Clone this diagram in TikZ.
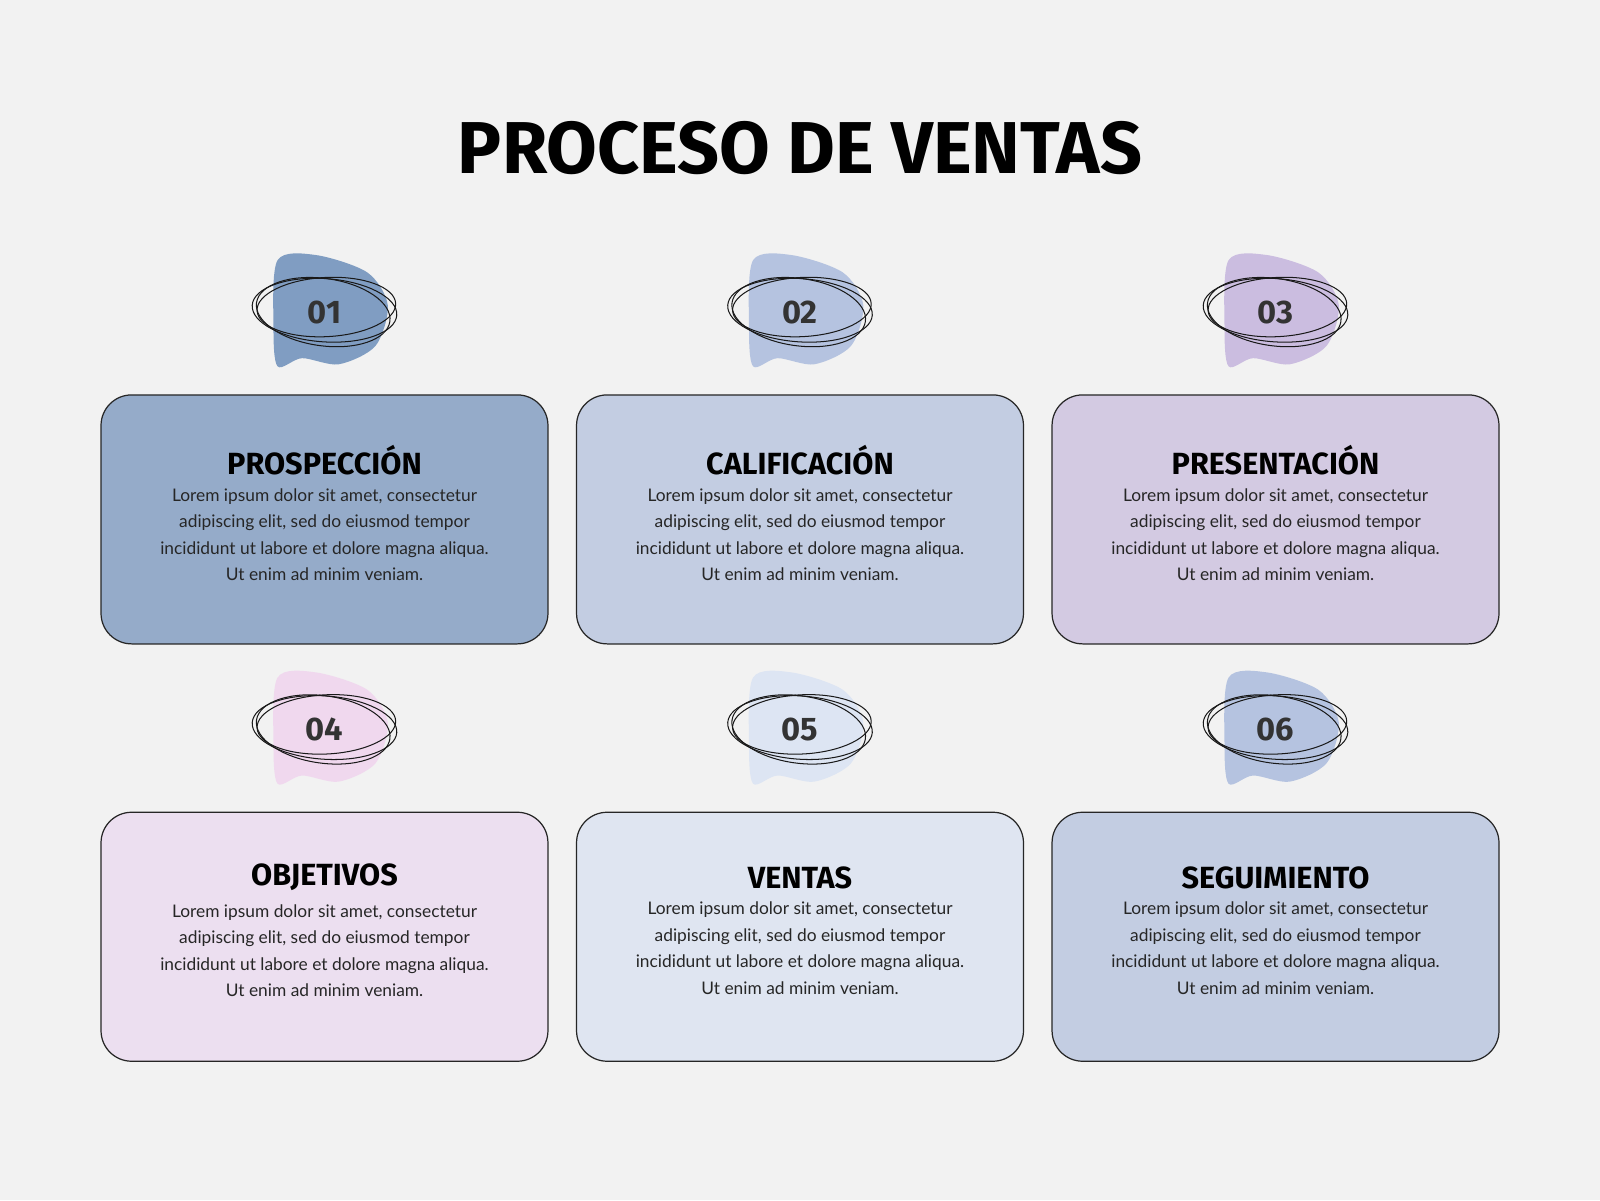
\documentclass[tikz,border=0pt]{standalone}
\usepackage{fontspec}
\setmainfont{Lato}
\newfontfamily\headfont{Fira Sans}
\usetikzlibrary{positioning}
\definecolor{pagebg}{HTML}{F2F2F2}
\definecolor{fillA}{HTML}{95ABC9}\definecolor{blobA}{HTML}{809DC2}
\definecolor{fillB}{HTML}{C3CDE2}\definecolor{blobB}{HTML}{B5C3E0}
\definecolor{fillC}{HTML}{D3CAE2}\definecolor{blobC}{HTML}{CBBDE0}
\definecolor{fillD}{HTML}{ECDFF0}\definecolor{blobD}{HTML}{F0D8EE}
\definecolor{fillE}{HTML}{DFE5F1}\definecolor{blobE}{HTML}{DDE5F3}
\definecolor{fillF}{HTML}{C3CDE2}\definecolor{blobF}{HTML}{B5C3E0}
\definecolor{numgray}{HTML}{333333}
\begin{document}
\begin{tikzpicture}[x=1pt,y=-1pt,
  card/.style={draw=black!85,line width=1.2pt,rounded corners=30pt,minimum width=438pt,minimum height=244pt},
  cardtitle/.style={font=\headfont\bfseries\fontsize{30}{34}\selectfont,text=black},
  cardtext/.style={font=\fontsize{17}{26}\selectfont,align=center,text=black!85},
  number/.style={font=\headfont\bfseries\fontsize{32}{36}\selectfont,text=numgray},
  scribble/.style={draw=black!90,line width=1pt}]
\fill[pagebg] (0,0) rectangle (1568,1176);
\useasboundingbox (0,0) rectangle (1568,1176);
% heading
\node[font=\headfont\bfseries\fontsize{72}{80}\selectfont] (heading) at (784,145) {PROCESO DE VENTAS};
% cards
\foreach \i/\x/\y/\c/\t in {1/318/509/A/PROSPECCIÓN,2/784/509/B/CALIFICACIÓN,3/1250/509/C/PRESENTACIÓN,
                            4/318/918/D/OBJETIVOS,5/784/918/E/VENTAS,6/1250/918/F/SEGUIMIENTO}{
  \node[card,fill=fill\c] (box\i) at (\x,\y) {};
  \node[cardtitle] (title\i) at (\x,\y-58) {\t};
  \node[cardtext,below=6pt of title\i] (text\i) {Lorem ipsum dolor sit amet, consectetur\\adipiscing elit, sed do eiusmod tempor\\incididunt ut labore et dolore magna aliqua.\\Ut enim ad minim veniam.};
  % badge blob and scribble
  \fill[blob\c] plot[smooth cycle] coordinates {(\x-46,\y-254) (\x-8,\y-259) (\x+42,\y-242) (\x+62,\y-210) (\x+50,\y-170) (\x+14,\y-152) (\x-22,\y-158) (\x-46,\y-150) (\x-50,\y-190)};
  \node[number] (num\i) at (\x,\y-203) {0\i};
  \draw[scribble,rotate around={-4:(\x,\y-205)}] (\x,\y-205) ellipse (71pt and 31pt);
  \draw[scribble,rotate around={3:(\x,\y-205)}] (\x+2,\y-208) ellipse (68pt and 29pt);
  \draw[scribble,rotate around={-8:(\x,\y-205)}] (\x-1,\y-203) ellipse (66pt and 33pt);
}
\end{tikzpicture}
\end{document}
